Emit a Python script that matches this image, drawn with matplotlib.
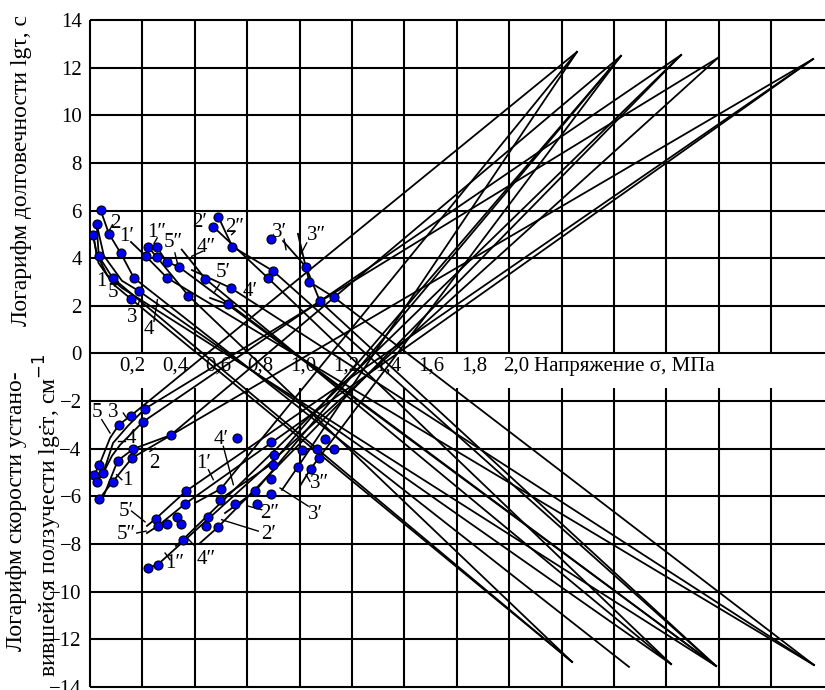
import matplotlib
matplotlib.use('Agg')
import matplotlib.pyplot as plt

plt.rcParams['font.family'] = ['Liberation Serif', 'DejaVu Serif']

# poles (sigma, lg) where the straight lines converge
top_poles = {'P1': (2.283, 12.66), 'P2': (2.489, 12.49), 'P3': (2.771, 12.53),
             'P4': (2.944, 12.41), 'P5': (3.390, 12.36)}
bottom_poles = {'Q1': (2.260, -12.95), 'Q2': (2.527, -13.16), 'Q3': (2.724, -13.04),
                'Q4': (2.935, -13.12), 'Q5': (3.394, -13.08)}

# durability curves lg(tau) vs sigma (upper half)
upper_names = ['1', '2', '3', '4', '5', '1′', '1″', '5″', '4″', '5′', '4′', '2′', '2″', '3′', '3″']
upper_paths = [
    [(0.031, 5.45), (0.041, 4.09), (0.106, 3.17)],
    [(0.050, 6.01), (0.089, 5.02), (0.144, 4.21), (0.206, 3.17)],
    [(0.015, 4.96), (0.040, 3.80), (0.110, 2.90), (0.192, 2.29)],
    [(0.031, 5.45), (0.065, 4.10), (0.150, 3.05), (0.231, 2.61)],
    [(0.015, 4.96), (0.030, 4.20), (0.080, 3.30), (0.150, 2.75)],
    [(0.192, 4.68), (0.261, 4.09), (0.362, 3.17)],
    [(0.273, 4.46), (0.313, 4.05), (0.461, 2.43)],
    [(0.313, 4.47), (0.360, 3.84), (0.416, 3.64)],
    [(0.430, 4.36), (0.541, 3.13)],
    [(0.478, 3.50), (0.660, 2.75)],
    [(0.563, 2.33), (0.645, 2.06)],
    [(0.578, 5.32), (0.833, 3.18)],
    [(0.602, 5.73), (0.667, 4.49), (0.859, 3.46)],
    [(0.905, 4.72), (1.013, 3.63), (1.078, 2.19)],
    [(0.975, 5.02), (1.028, 3.01), (1.144, 2.36)],
]
upper_pole = ['Q1', 'Q2', 'Q1', 'Q3', 'Q4', 'Q5', 'Q1', 'Q4', 'Q3', 'Q5', 'Q4', 'Q3', 'Q4', 'Q4', 'Q5']

upper_pts_x = [0.050, 0.031, 0.015, 0.041, 0.089, 0.144, 0.106, 0.206, 0.192, 0.231,
               0.273, 0.313, 0.261, 0.313, 0.360, 0.416, 0.362, 0.461, 0.541, 0.660,
               0.645, 0.602, 0.578, 0.667, 0.847, 0.859, 0.833, 1.013, 1.028, 1.078, 1.144]
upper_pts_y = [6.01, 5.45, 4.96, 4.09, 5.02, 4.21, 3.17, 3.17, 2.29, 2.61,
               4.46, 4.47, 4.09, 4.05, 3.84, 3.64, 3.17, 2.43, 3.13, 2.75,
               2.06, 5.73, 5.32, 4.49, 4.81, 3.46, 3.18, 3.63, 3.01, 2.19, 2.36]

# creep rate curves lg(eps) vs sigma (lower half)
lower_names = ['5', '3', '4', '2', '1', '5′', '5″', '1″', '4″', '2′', '2″', '1′', '4′', '3′', '3″']
lower_paths = [
    [(0.020, -5.09), (0.044, -4.67), (0.094, -3.55), (0.136, -2.99), (0.192, -2.61)],
    [(0.031, -5.41), (0.062, -5.02), (0.108, -3.76), (0.178, -3.04), (0.258, -2.32)],
    [(0.062, -5.02), (0.103, -4.30), (0.141, -3.84), (0.247, -2.88)],
    [(0.066, -5.94), (0.130, -4.50), (0.203, -4.01), (0.378, -3.43)],
    [(0.044, -6.10), (0.106, -5.39), (0.197, -4.39)],
    [(0.267, -7.24), (0.308, -6.94), (0.450, -5.78)],
    [(0.267, -7.54), (0.317, -7.25), (0.445, -6.32)],
    [(0.271, -9.00), (0.317, -8.87)],
    [(0.403, -8.08), (0.435, -7.82)],
    [(0.516, -7.96), (0.599, -7.30)],
    [(0.633, -6.70), (0.774, -5.79)],
    [(0.492, -6.28), (0.614, -5.68)],
    [(0.633, -5.98), (0.847, -4.67)],
    [(0.900, -5.73), (0.974, -4.77)],
    [(0.985, -5.56), (1.034, -4.85)],
]
lower_pole = ['P1', 'P4', 'P3', 'P2', 'P5', 'P5', 'P5', 'P4', 'P3', 'P3', 'P2', 'P1', 'P2', 'P1', 'P2']

lower_pts_x = [0.020, 0.031, 0.044, 0.044, 0.062, 0.106, 0.130, 0.136, 0.192, 0.247,
               0.258, 0.203, 0.197, 0.378, 0.450, 0.445, 0.308, 0.317, 0.362, 0.406,
               0.425, 0.435, 0.271, 0.317, 0.552, 0.542, 0.599, 0.614, 0.609, 0.680,
               0.688, 0.774, 0.784, 0.847, 0.863, 0.857, 0.849, 0.847, 0.992, 1.063,
               1.104, 1.144, 1.075, 0.974, 1.034]
lower_pts_y = [-5.09, -5.41, -4.67, -6.10, -5.02, -5.39, -4.50, -2.99, -2.61, -2.88,
               -2.32, -4.01, -4.39, -3.43, -5.78, -6.32, -6.94, -7.25, -7.15, -6.86,
               -7.15, -7.82, -9.00, -8.87, -6.88, -7.25, -7.30, -5.68, -6.14, -6.32,
               -3.55, -5.79, -6.32, -3.72, -4.27, -4.67, -5.27, -5.90, -4.04, -4.00,
               -3.59, -4.00, -4.37, -4.77, -4.85]

# curve labels: text, position, leader line (x1, y1, x2, y2)
label_text = ['2', '1′', '1″', '5″', '4″', '2′', '2″', '5′', '4′', '3′', '3″', '1', '5', '3', '4',
              '5', '3', '4', '2', '1', '4′', '1′', '5′', '5″', '1″', '4″', '2″', '2′', '3″', '3′']
label_xy = [(0.117, 5.45), (0.172, 4.92), (0.313, 5.06), (0.391, 4.64), (0.547, 4.46),
            (0.512, 5.48), (0.680, 5.30), (0.625, 3.38), (0.750, 2.61), (0.888, 5.06),
            (1.063, 4.96), (0.055, 3.03), (0.109, 2.54), (0.196, 1.49), (0.278, 1.00),
            (0.034, -2.50), (0.109, -2.50), (0.192, -3.55), (0.300, -4.60), (0.173, -5.35),
            (0.617, -3.62), (0.531, -4.64), (0.172, -6.62), (0.169, -7.61), (0.398, -8.80),
            (0.547, -8.66), (0.844, -6.70), (0.836, -7.61), (1.078, -5.44), (1.055, -6.77)]
leaders = [(0.093, 5.20, 0.105, 5.40), None, (0.300, 4.62, 0.315, 4.85),
           (0.398, 4.22, 0.413, 3.67), (0.477, 4.08, 0.528, 4.29), None,
           (0.664, 4.99, 0.680, 5.13), (0.581, 2.54, 0.606, 2.89), None,
           (0.910, 4.80, 0.919, 4.36), (1.016, 4.64, 0.989, 4.18),
           (0.055, 3.80, 0.062, 3.52), (0.117, 2.83, 0.133, 3.03),
           (0.222, 1.98, 0.231, 2.19), (0.300, 1.35, 0.316, 2.26),
           (0.055, -2.78, 0.094, -3.34), (0.156, -2.50, 0.172, -2.71),
           (0.133, -3.69, 0.164, -3.69), (0.281, -4.11, 0.305, -3.97),
           (0.125, -5.09, 0.149, -5.30), (0.625, -3.90, 0.672, -5.51),
           (0.555, -4.88, 0.578, -5.30), (0.195, -6.62, 0.258, -7.07),
           (0.219, -7.54, 0.263, -7.46), (0.352, -8.38, 0.375, -8.66),
           (0.453, -7.72, 0.492, -8.09), (0.742, -6.41, 0.805, -6.56),
           (0.617, -6.98, 0.789, -7.46), (1.013, -5.09, 1.031, -5.37),
           (0.891, -5.65, 1.023, -6.41)]

x_tick_vals = [0.2, 0.4, 0.6, 0.8, 1.0, 1.2, 1.4, 1.6, 1.8, 2.0]
x_tick_text = ['0,2', '0,4', '0,6', '0,8', '1,0', '1,2', '1,4', '1,6', '1,8', '2,0']
y_tick_vals = list(range(-14, 15, 2))

fig = plt.figure(figsize=(8.25, 6.9), dpi=100)
ax = fig.add_axes([90 / 825, 0, 735 / 825, 670 / 690])
ax.set_xlim(0, 3.446)
ax.set_ylim(-14.13, 14)
for s in ax.spines.values():
    s.set_visible(False)

# grid (cells are 0.2457 MPa wide; vertical lines broken under the sigma labels)
grid_kw = dict(color='black', lw=1.5, clip_on=False, zorder=1)
ax.hlines(y_tick_vals, 0, 3.446, **grid_kw)
ax.vlines(0, -14, 14, **grid_kw)
for k in range(1, 14):
    ax.vlines(k * 0.2457, 0, 14, **grid_kw)
    ax.vlines(k * 0.2457, -14, -1.45, **grid_kw)

for path, pole in zip(upper_paths, upper_pole):
    xs = [p[0] for p in path] + [bottom_poles[pole][0]]
    ys = [p[1] for p in path] + [bottom_poles[pole][1]]
    ax.plot(xs, ys, color='black', lw=1.3, zorder=2)
for path, pole in zip(lower_paths, lower_pole):
    xs = [p[0] for p in path] + [top_poles[pole][0]]
    ys = [p[1] for p in path] + [top_poles[pole][1]]
    ax.plot(xs, ys, color='black', lw=1.3, zorder=2)

mk = dict(ls='none', marker='o', ms=6.5, mfc='#0000f0', mec='black', mew=0.8, zorder=4)
ax.plot(upper_pts_x, upper_pts_y, **mk)
ax.plot(lower_pts_x, lower_pts_y, **mk)

for txt, (x, y), ld in zip(label_text, label_xy, leaders):
    ax.text(x, y, txt, fontsize=15, ha='center', va='center', zorder=5)
    if ld is not None:
        ax.plot([ld[0], ld[2]], [ld[1], ld[3]], color='black', lw=1.0, zorder=3)

# axes ticks
ax.set_yticks(y_tick_vals)
ax.set_yticklabels([str(v).replace('-', '−') for v in y_tick_vals])
ax.spines['bottom'].set_position(('data', 0))
ax.set_xticks(x_tick_vals)
ax.set_xticklabels(x_tick_text)
ax.tick_params(axis='y', length=0, pad=6, labelsize=15)
ax.tick_params(axis='x', length=0, pad=2, labelsize=15)
ax.text(2.08, -0.55, 'Напряжение σ, МПа', fontsize=15, ha='left', va='center')

fig.text(22 / 825, 1 - 171 / 690, 'Логарифм долговечности lgτ, с',
         rotation=90, ha='center', va='center', fontsize=17)
fig.text(17 / 825, 1 - 511 / 690, 'Логарифм скорости устано-',
         rotation=90, ha='center', va='center', fontsize=17)
fig.text(48 / 825, 1 - 515 / 690, 'вившейся ползучести lgε̇т, см$^{-1}$',
         rotation=90, ha='center', va='center', fontsize=17)

fig.savefig('out.png', dpi=100)
